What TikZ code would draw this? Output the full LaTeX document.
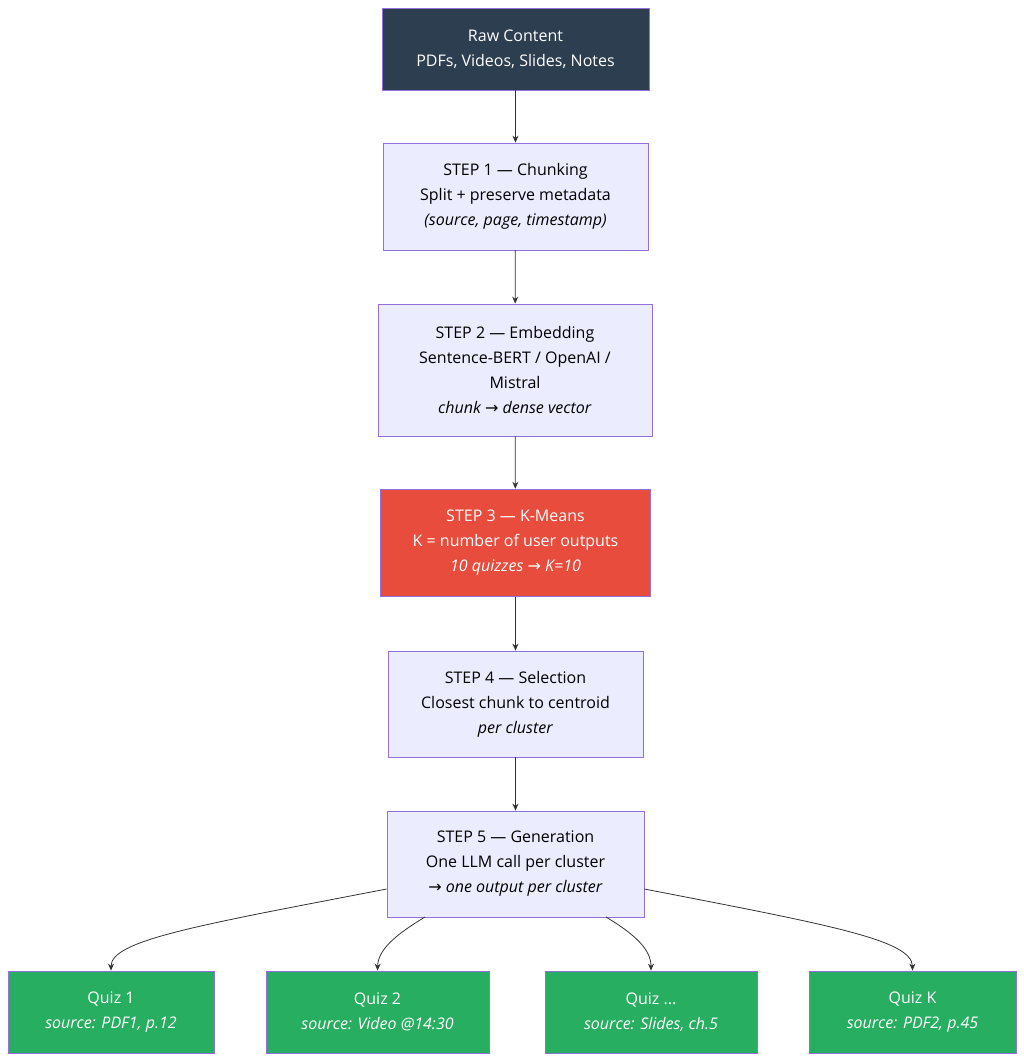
\documentclass[tikz,border=0pt]{standalone}
\usepackage{fontspec}
\setmainfont{Open Sans}
\newfontfamily\symf{DejaVu Sans}
\newcommand{\rarr}{{\symf\upshape →}}
\usetikzlibrary{arrows.meta}
\definecolor{dark}{HTML}{2C3E50}
\definecolor{lav}{HTML}{ECECFF}
\definecolor{purp}{HTML}{9370DB}
\definecolor{redb}{HTML}{E74C3C}
\definecolor{grn}{HTML}{27AE60}
\definecolor{ln}{HTML}{333333}
\begin{document}
\begin{tikzpicture}[x=1pt,y=-1pt,
  box/.style={draw=purp,fill=lav,line width=0.8pt,align=center,font=\fontsize{16}{25}\selectfont,text=black,inner sep=0pt},
  raw/.style={box,fill=dark,text=white},
  hot/.style={box,fill=redb,text=white,line width=1.6pt},
  quiz/.style={box,fill=grn,text=white},
  arr/.style={draw=ln,line width=0.8pt,-{Stealth[length=7pt,width=6pt]}}]
\useasboundingbox (0,0) rectangle (1024,1062);
\node[raw,minimum width=267pt,minimum height=82pt] (raw) at (515.5,49) {Raw Content\\PDFs, Videos, Slides, Notes};
\node[box,minimum width=265pt,minimum height=107pt] (s1) at (515.5,196.5) {STEP 1 — Chunking\\Split + preserve metadata\\\textit{(source, page, timestamp)}};
\node[box,minimum width=274pt,minimum height=132pt] (s2) at (515,370) {STEP 2 — Embedding\\Sentence-BERT / OpenAI /\\Mistral\\\textit{chunk \rarr{} dense vector}};
\node[hot,minimum width=270pt,minimum height=107pt] (s3) at (515.5,543) {STEP 3 — K-Means\\K = number of user outputs\\\textit{10 quizzes \rarr{} K=10}};
\node[box,minimum width=255pt,minimum height=106pt] (s4) at (515.5,704) {STEP 4 — Selection\\Closest chunk to centroid\\\textit{per cluster}};
\node[box,minimum width=257pt,minimum height=106pt] (s5) at (515.5,864) {STEP 5 — Generation\\One LLM call per cluster\\\textit{\rarr{} one output per cluster}};
\node[quiz,minimum width=206pt,minimum height=82pt] (q1) at (111,1012) {Quiz 1\\\textit{source: PDF1, p.12}};
\node[quiz,minimum width=223pt,minimum height=82pt] (q2) at (377.5,1012) {Quiz 2\\\textit{source: Video @14:30}};
\node[quiz,minimum width=212pt,minimum height=82pt] (q3) at (651,1012) {Quiz ...\\\textit{source: Slides, ch.5}};
\node[quiz,minimum width=207pt,minimum height=82pt] (q4) at (912.5,1012) {Quiz K\\\textit{source: PDF2, p.45}};
\draw[arr] (raw) -- (s1);
\draw[arr] (s1) -- (s2);
\draw[arr] (s2) -- (s3);
\draw[arr] (s3) -- (s4);
\draw[arr] (s4) -- (s5);
\draw[arr] (s5.west |- 0,889) .. controls (200,925) and (111,940) .. (q1.north);
\draw[arr] (425,917) .. controls (395,935) and (378,950) .. (q2.north);
\draw[arr] (606,917) .. controls (636,935) and (651,950) .. (q3.north);
\draw[arr] (s5.east |- 0,889) .. controls (830,925) and (912,940) .. (q4.north);
\end{tikzpicture}
\end{document}
